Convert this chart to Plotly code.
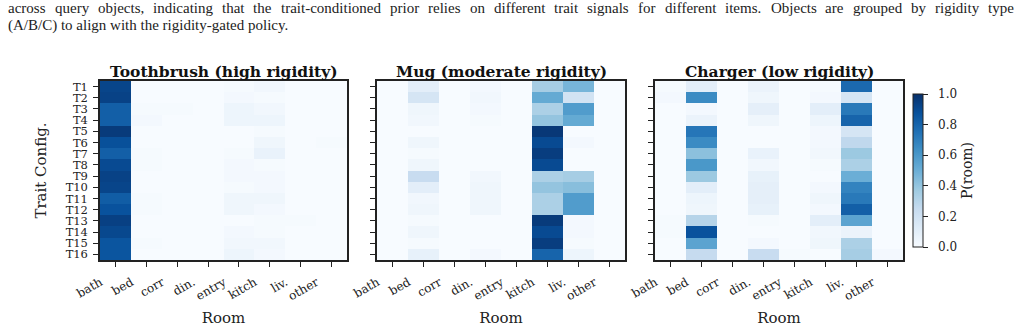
import plotly.graph_objects as go

rooms = ["bath", "bed", "corr", "din.", "entry", "kitch", "liv.", "other"]
traits = [f"T{i}" for i in range(1, 17)]

# rows: T1..T16, columns: rooms
toothbrush = [
    [0.92, 0.00, 0.00, 0.00, 0.01, 0.03, 0.00, 0.00],
    [0.93, 0.00, 0.00, 0.00, 0.02, 0.01, 0.00, 0.00],
    [0.82, 0.01, 0.01, 0.00, 0.05, 0.03, 0.00, 0.00],
    [0.82, 0.02, 0.00, 0.00, 0.05, 0.05, 0.00, 0.00],
    [0.96, 0.00, 0.00, 0.00, 0.00, 0.01, 0.00, 0.00],
    [0.88, 0.00, 0.00, 0.00, 0.00, 0.04, 0.00, 0.01],
    [0.82, 0.01, 0.00, 0.00, 0.01, 0.07, 0.00, 0.00],
    [0.90, 0.01, 0.00, 0.00, 0.02, 0.01, 0.00, 0.00],
    [0.93, 0.00, 0.00, 0.00, 0.02, 0.02, 0.00, 0.00],
    [0.92, 0.00, 0.00, 0.00, 0.01, 0.02, 0.00, 0.00],
    [0.83, 0.01, 0.00, 0.00, 0.04, 0.04, 0.00, 0.00],
    [0.87, 0.01, 0.00, 0.00, 0.04, 0.02, 0.00, 0.00],
    [0.94, 0.00, 0.00, 0.00, 0.00, 0.01, 0.01, 0.00],
    [0.91, 0.00, 0.00, 0.00, 0.02, 0.01, 0.00, 0.00],
    [0.86, 0.01, 0.00, 0.00, 0.03, 0.03, 0.00, 0.00],
    [0.86, 0.00, 0.00, 0.00, 0.05, 0.02, 0.00, 0.00],
]
mug = [
    [0.00, 0.10, 0.00, 0.02, 0.00, 0.35, 0.47, 0.00],
    [0.00, 0.17, 0.00, 0.03, 0.00, 0.52, 0.19, 0.00],
    [0.00, 0.04, 0.00, 0.02, 0.00, 0.33, 0.58, 0.00],
    [0.00, 0.03, 0.00, 0.01, 0.00, 0.40, 0.52, 0.00],
    [0.00, 0.00, 0.00, 0.00, 0.00, 0.97, 0.00, 0.00],
    [0.00, 0.04, 0.00, 0.00, 0.00, 0.90, 0.02, 0.00],
    [0.00, 0.01, 0.00, 0.00, 0.00, 0.95, 0.00, 0.00],
    [0.00, 0.04, 0.00, 0.00, 0.00, 0.90, 0.00, 0.00],
    [0.00, 0.24, 0.00, 0.03, 0.00, 0.33, 0.35, 0.00],
    [0.00, 0.10, 0.00, 0.04, 0.00, 0.40, 0.43, 0.00],
    [0.00, 0.03, 0.00, 0.04, 0.00, 0.33, 0.58, 0.00],
    [0.00, 0.04, 0.00, 0.04, 0.00, 0.33, 0.58, 0.00],
    [0.00, 0.01, 0.00, 0.00, 0.00, 0.96, 0.02, 0.00],
    [0.00, 0.04, 0.00, 0.00, 0.00, 0.90, 0.02, 0.00],
    [0.00, 0.01, 0.00, 0.00, 0.00, 0.95, 0.01, 0.00],
    [0.00, 0.08, 0.00, 0.02, 0.00, 0.80, 0.05, 0.00],
]
charger = [
    [0.01, 0.10, 0.00, 0.06, 0.00, 0.01, 0.78, 0.00],
    [0.02, 0.65, 0.00, 0.04, 0.00, 0.02, 0.17, 0.00],
    [0.00, 0.02, 0.00, 0.09, 0.00, 0.10, 0.72, 0.00],
    [0.00, 0.06, 0.00, 0.04, 0.00, 0.05, 0.80, 0.00],
    [0.00, 0.73, 0.00, 0.00, 0.00, 0.02, 0.17, 0.00],
    [0.00, 0.65, 0.00, 0.00, 0.00, 0.02, 0.27, 0.00],
    [0.00, 0.42, 0.00, 0.07, 0.00, 0.03, 0.38, 0.00],
    [0.00, 0.60, 0.00, 0.03, 0.00, 0.01, 0.33, 0.00],
    [0.00, 0.38, 0.00, 0.08, 0.00, 0.00, 0.50, 0.00],
    [0.00, 0.10, 0.00, 0.09, 0.00, 0.02, 0.68, 0.00],
    [0.00, 0.05, 0.00, 0.09, 0.00, 0.04, 0.72, 0.00],
    [0.00, 0.04, 0.00, 0.08, 0.00, 0.02, 0.82, 0.00],
    [0.01, 0.30, 0.00, 0.01, 0.00, 0.10, 0.55, 0.00],
    [0.01, 0.87, 0.00, 0.00, 0.00, 0.03, 0.06, 0.00],
    [0.00, 0.55, 0.00, 0.02, 0.00, 0.04, 0.33, 0.00],
    [0.00, 0.25, 0.00, 0.24, 0.01, 0.00, 0.35, 0.02],
]

titles = ["Toothbrush (high rigidity)", "Mug (moderate rigidity)", "Charger (low rigidity)"]
caption1 = ("across query objects, indicating that the trait-conditioned prior relies on different "
            "trait signals for different items. Objects are grouped by rigidity type")
caption2 = "(A/B/C) to align with the rigidity-gated policy."
cbar_ticks = [0.0, 0.2, 0.4, 0.6, 0.8, 1.0]

blues = [
    [0.0, "#f7fbff"], [0.125, "#deebf7"], [0.25, "#c6dbef"], [0.375, "#9ecae1"],
    [0.5, "#6baed6"], [0.625, "#4292c6"], [0.75, "#2171b5"], [0.875, "#08519c"],
    [1.0, "#08306b"],
]

# Times / Liberation Serif advance widths (per 1000 em) for justifying the caption line
_tw = dict(zip("abcdefghijklmnopqrstuvwxyz",
               [444, 500, 444, 500, 444, 333, 500, 500, 278, 278, 500, 278, 778,
                500, 500, 500, 500, 333, 389, 278, 500, 500, 722, 500, 500, 444]))
_tw.update({" ": 250, ",": 250, ".": 250, "-": 333, "O": 722, "(": 333, ")": 333,
            "/": 278, "A": 722, "B": 667, "C": 667})


def text_w(s, size):
    return sum(_tw.get(c, 500) for c in s) * size / 1000.0


W, H = 1020, 332
serif = "DejaVu Serif"
panels_px = [(100, 347), (377, 625), (655, 903)]
top_px, bot_px = 81, 260
y0 = (H - bot_px) / H
y1 = (H - top_px) / H

fig = go.Figure()
for i, data in enumerate([toothbrush, mug, charger]):
    suffix = "" if i == 0 else str(i + 1)
    fig.add_trace(go.Heatmap(
        z=data, x=rooms, y=traits,
        colorscale=blues, zmin=0, zmax=1,
        xaxis="x" + suffix, yaxis="y" + suffix,
        showscale=(i == 2),
        colorbar=dict(
            x=913 / W, xanchor="left", xpad=0, ypad=0,
            thickness=10, thicknessmode="pixels",
            len=153, lenmode="pixels", y=(H - 170.5) / H, yanchor="middle",
            outlinecolor="#222", outlinewidth=1,
            tickvals=cbar_ticks, ticktext=["\u00a0\u00a0%.1f" % v for v in cbar_ticks],
            ticks="outside", ticklen=5, tickcolor="#222",
            tickfont=dict(family=serif, size=12, color="#222"),
            title=dict(text="P(room)", side="right", font=dict(family=serif, size=14, color="#222")),
        ),
    ))

layout = dict(
    width=W, height=H, margin=dict(l=0, r=0, t=0, b=0, autoexpand=False),
    paper_bgcolor="white", plot_bgcolor="white", showlegend=False,
)
annotations = []
for i, (xl, xr) in enumerate(panels_px):
    suffix = "" if i == 0 else str(i + 1)
    layout["xaxis" + suffix] = dict(
        domain=[xl / W, xr / W], anchor="y" + suffix, automargin=False,
        showline=True, mirror=True, linecolor="#222", linewidth=1.5,
        ticks="outside", ticklen=5, tickcolor="#222", tickangle=-30,
        ticklabelshift=-15, ticklabelstandoff=4,
        tickfont=dict(family=serif, size=12, color="#222"),
        title=dict(text="Room", font=dict(family=serif, size=15, color="#222"), standoff=10),
        showgrid=False, zeroline=False,
    )
    layout["yaxis" + suffix] = dict(
        domain=[y0, y1], anchor="x" + suffix, autorange="reversed", automargin=False,
        tickmode="array", tickvals=traits,
        showline=True, mirror=True, linecolor="#222", linewidth=1.5,
        ticks="outside", ticklen=5, tickcolor="#222", ticklabelstandoff=3,
        showticklabels=(i == 0),
        tickfont=dict(family=serif, size=11.5, color="#222"),
        showgrid=False, zeroline=False,
    )
    annotations.append(dict(
        text="<b>" + titles[i] + "</b>", xref="paper", yref="paper",
        x=(xl + xr) / 2 / W, y=(H - 71) / H, xanchor="center", yanchor="middle",
        showarrow=False, font=dict(family=serif, size=15.5, color="#111"),
    ))
layout["yaxis"]["title"] = dict(text="Trait Config.", font=dict(family=serif, size=15, color="#222"), standoff=15)

# caption: line 1 justified between x=7 and x=1013, line 2 left aligned
cap_size = 15
cap_font = dict(family="Liberation Serif", size=cap_size, color="#222")
words = caption1.split(" ")
widths = [text_w(w, cap_size) for w in words]
gap = (1013 - 7 - sum(widths)) / (len(words) - 1)
xpos = 7.0
for w, wd in zip(words, widths):
    annotations.append(dict(
        text=w, xref="paper", yref="paper", x=xpos / W, y=(H - 8) / H,
        xanchor="left", yanchor="middle", showarrow=False, borderpad=0, font=cap_font,
    ))
    xpos += wd + gap
annotations.append(dict(
    text=caption2, xref="paper", yref="paper", x=7 / W, y=(H - 25) / H,
    xanchor="left", yanchor="middle", showarrow=False, borderpad=0, font=cap_font,
))
layout["annotations"] = annotations
fig.update_layout(**layout)
fig.write_html("out.html")
